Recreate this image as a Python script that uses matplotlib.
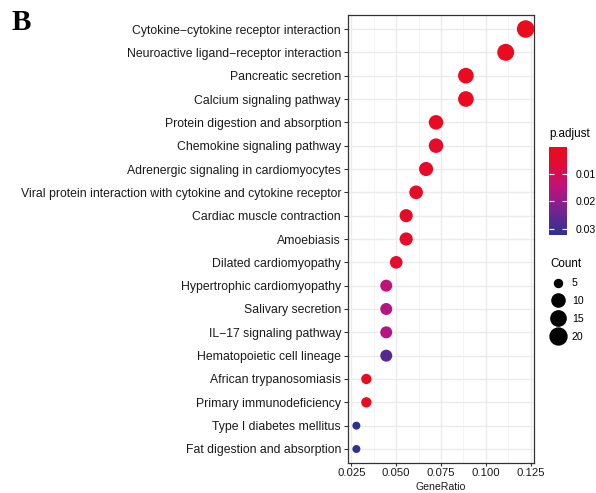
import numpy as np
import matplotlib
matplotlib.use('Agg')
import matplotlib.pyplot as plt
from matplotlib.colors import LinearSegmentedColormap, Normalize
from matplotlib.lines import Line2D

plt.rcParams['font.family'] = ['Liberation Sans', 'DejaVu Sans']

pathways = ['Cytokine\u2212cytokine receptor interaction',
            'Neuroactive ligand\u2212receptor interaction',
            'Pancreatic secretion',
            'Calcium signaling pathway',
            'Protein digestion and absorption',
            'Chemokine signaling pathway',
            'Adrenergic signaling in cardiomyocytes',
            'Viral protein interaction with cytokine and cytokine receptor',
            'Cardiac muscle contraction',
            'Amoebiasis',
            'Dilated cardiomyopathy',
            'Hypertrophic cardiomyopathy',
            'Salivary secretion',
            'IL\u221217 signaling pathway',
            'Hematopoietic cell lineage',
            'African trypanosomiasis',
            'Primary immunodeficiency',
            'Type I diabetes mellitus',
            'Fat digestion and absorption']
gene_ratio = [22/180, 20/180, 16/180, 16/180, 13/180, 13/180, 12/180, 11/180, 10/180, 10/180,
              9/180, 8/180, 8/180, 8/180, 8/180, 6/180, 6/180, 5/180, 5/180]
counts = [22, 20, 16, 16, 13, 13, 12, 11, 10, 10, 9, 8, 8, 8, 8, 6, 6, 5, 5]
p_adjust = [0.0005, 0.001, 0.001, 0.001, 0.002, 0.004, 0.003, 0.003, 0.003, 0.003,
            0.004, 0.014, 0.016, 0.016, 0.027, 0.002, 0.002, 0.032, 0.032]
count_breaks = [5, 10, 15, 20]
x_ticks = [0.025, 0.050, 0.075, 0.100, 0.125]

cmap = LinearSegmentedColormap.from_list(
    'padj', [(0.0, '#EE0A1C'), (0.2, '#E00C35'), (0.45, '#C0127C'),
             (0.7, '#7B2290'), (1.0, '#2C3192')])
norm = Normalize(vmin=0.0002, vmax=0.0322)

cmin, cmax = min(counts), max(counts)


def diam_px(c):
    return 8 + 9.5 * np.sqrt((c - cmin) / (cmax - cmin))


fig = plt.figure(figsize=(5.96, 4.93), dpi=100)
ax = fig.add_axes([348/596, 1 - 463/493, 186/596, 448/493])

ypos = np.arange(len(pathways))[::-1] + 1
sizes = [(diam_px(c) * 0.72) ** 2 for c in counts]
ax.scatter(gene_ratio, ypos, s=sizes, c=p_adjust, cmap=cmap, norm=norm,
           edgecolors='none', zorder=3)

ax.set_xlim(0.0231, 0.1269)
ax.set_ylim(0.4, len(pathways) + 0.6)
ax.set_xticks(x_ticks)
ax.set_xticklabels(['%.3f' % v for v in x_ticks])
ax.set_xticks([0.0375, 0.0625, 0.0875, 0.1125], minor=True)
ax.set_yticks(ypos)
ax.set_yticklabels(pathways)

ax.grid(True, which='major', color='#EBEBEB', linewidth=1.0, zorder=0)
ax.grid(True, which='minor', axis='x', color='#F2F2F2', linewidth=0.6, zorder=0)
ax.set_axisbelow(True)
for sp in ax.spines.values():
    sp.set_color('#333333')
    sp.set_linewidth(0.9)
ax.tick_params(which='major', length=3, width=0.8, color='#333333',
               labelsize=8.8, labelcolor='#1A1A1A', pad=2)
ax.tick_params(axis='x', which='major', length=2.5, labelsize=8.2, pad=1)
ax.tick_params(which='minor', length=0)

# x axis title sits right at the bottom edge, as in the source figure
fig.text(441/596, 0.5/493, 'GeneRatio', fontsize=7.6, color='#1A1A1A',
         ha='center', va='bottom')

fig.text(12/596, 1 - 23/493, 'B', fontsize=21, fontweight='bold',
         family='Liberation Serif', va='center', ha='left')

# colorbar legend
fig.text(549/596, 1 - 134/493, 'p.adjust', fontsize=8.4, va='center', ha='left')
cax = fig.add_axes([549/596, 1 - 235/493, 18/596, 88/493])
cb = fig.colorbar(plt.cm.ScalarMappable(norm=norm, cmap=cmap), cax=cax)
cb.outline.set_visible(False)
cb.set_ticks([0.01, 0.02, 0.03])
cb.set_ticklabels(['0.01', '0.02', '0.03'])
cax.invert_yaxis()
cax.tick_params(direction='in', length=3.5, width=0.8, color='white',
                left=True, right=True, labelsize=7.6, pad=6)

# size legend
handles = [Line2D([], [], linestyle='none', marker='o', color='black',
                  markersize=diam_px(c) * 0.72) for c in count_breaks]
leg = fig.legend(handles, [str(c) for c in count_breaks], title='Count',
                 loc='upper left', bbox_to_anchor=(545/596, 1 - 253/493),
                 frameon=False, fontsize=7.6, title_fontsize=8.4,
                 handlelength=1.45, handletextpad=0.6, labelspacing=0.75,
                 borderpad=0, alignment='left')

fig.savefig('out.png', dpi=100)
